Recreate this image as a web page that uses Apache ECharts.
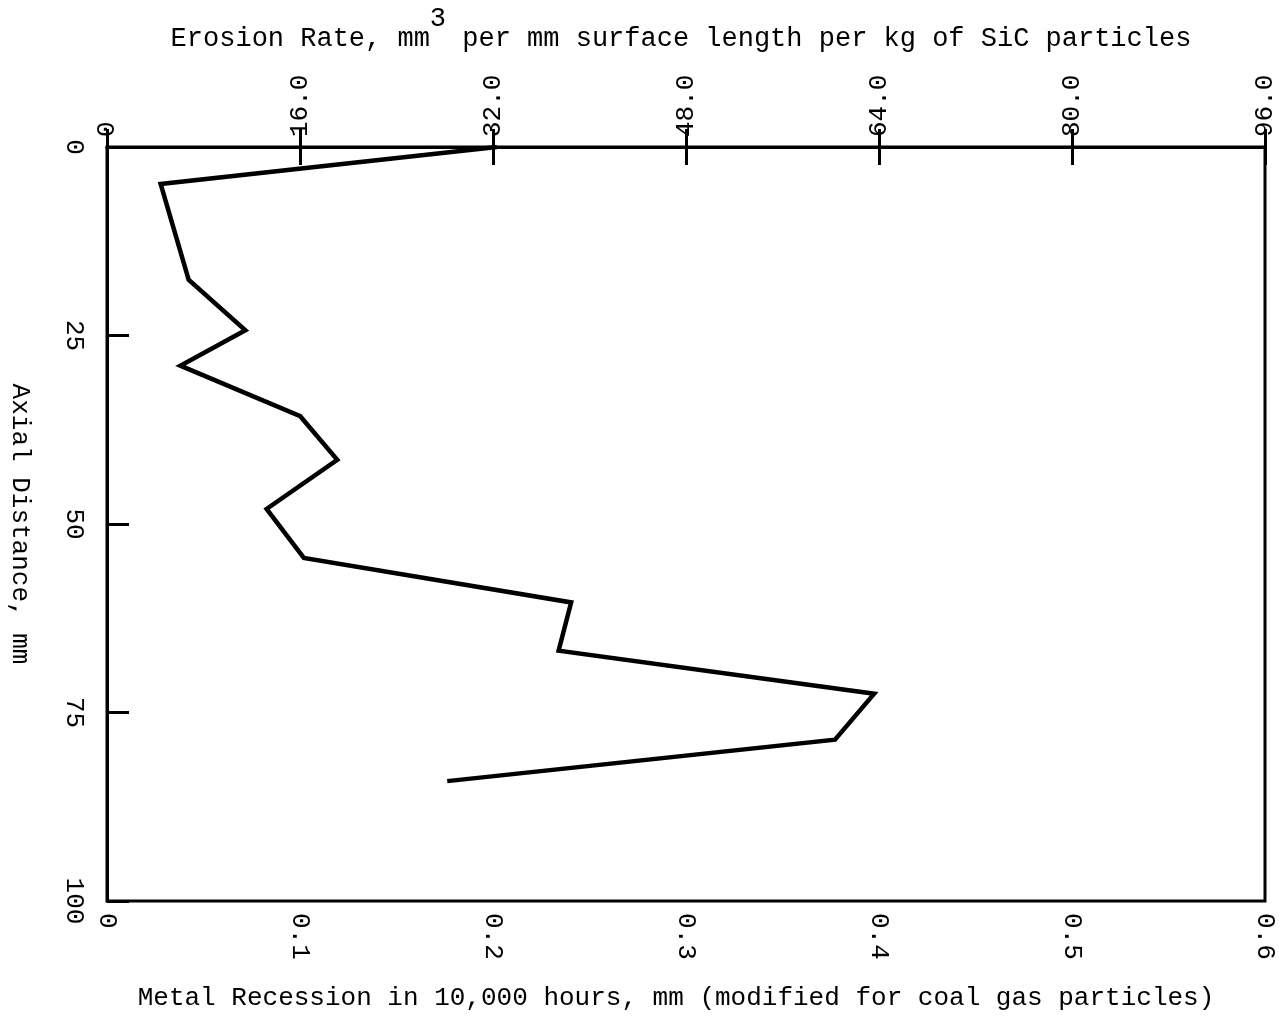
<!DOCTYPE html>
<html>
<head>
<meta charset="utf-8">
<title>Metal Recession vs Axial Distance</title>
<script src="https://cdn.jsdelivr.net/npm/echarts@6/dist/echarts.min.js"></script>
<style>
  html, body { margin: 0; padding: 0; background: #fff; }
  #chart { width: 1279px; height: 1016px; }
</style>
</head>
<body>
<div id="chart"></div>
<script>
// Profile along the surface: metal recession (mm) at each axial position (mm)
const axialDistance = [0, 4.9, 17.6, 24.3, 29.0, 35.7, 41.5, 48.0, 54.5, 60.4, 66.8, 72.5, 78.6, 84.1];
const metalRecession = [0.202, 0.0278, 0.0423, 0.0717, 0.0380, 0.1001, 0.1193, 0.0827, 0.1020, 0.2405, 0.2340, 0.3975, 0.3772, 0.1763];

// Axis scales
const recessionTicks = [0, 0.1, 0.2, 0.3, 0.4, 0.5, 0.6];
const erosionTicks = [0, 16.0, 32.0, 48.0, 64.0, 80.0, 96.0];
const axialTicks = [0, 25, 50, 75, 100];

const FONT = '"Liberation Mono", "DejaVu Sans Mono", monospace';
const INK = '#000';

// Top axis title: the cubic exponent sits on its own line above "mm"
const erosionTitleMain = 'Erosion Rate, mm  per mm surface length per kg of SiC particles';
const erosionTitleSup = ' '.repeat(16) + '3' + ' '.repeat(erosionTitleMain.length - 17);

const points = axialDistance.map((d, i) => [metalRecession[i], d]);

const step = arr => arr[1] - arr[0];

const tickStyle = { show: true, inside: true, length: 18, lineStyle: { color: INK, width: 3 } };
const labelStyle = { fontFamily: FONT, fontSize: 26, color: INK, rotate: -90 };

const chart = echarts.init(document.getElementById('chart'), null, { renderer: 'canvas' });

chart.setOption({
  backgroundColor: '#fff',
  animation: false,
  grid: {
    left: 107, right: 14, top: 147, bottom: 115,
    show: true, borderColor: INK, borderWidth: 3,
    containLabel: false, outerBoundsMode: 'none'
  },
  xAxis: [
    {
      type: 'value', position: 'bottom',
      min: recessionTicks[0], max: recessionTicks[recessionTicks.length - 1], interval: step(recessionTicks),
      name: 'Metal Recession in 10,000 hours, mm (modified for coal gas particles)',
      nameLocation: 'middle', nameGap: 84, nameMoveOverlap: false,
      nameTextStyle: { fontFamily: FONT, fontSize: 26, color: INK, lineHeight: 26, padding: [0, 20, 0, 0] },
      axisLine: { show: true, lineStyle: { color: INK, width: 3 } },
      axisTick: tickStyle,
      splitLine: { show: false },
      axisLabel: Object.assign({}, labelStyle, {
        margin: 12,
        formatter: v => (v === 0 ? '0' : v.toFixed(1))
      })
    },
    {
      type: 'value', position: 'top',
      min: erosionTicks[0], max: erosionTicks[erosionTicks.length - 1], interval: step(erosionTicks),
      name: erosionTitleSup + '\n' + erosionTitleMain,
      nameLocation: 'middle', nameGap: 98, nameMoveOverlap: false,
      nameTextStyle: { fontFamily: FONT, fontSize: 27, color: INK, lineHeight: 20, padding: [0, 10, 0, 0] },
      axisLine: { show: true, lineStyle: { color: INK, width: 3 } },
      axisTick: tickStyle,
      splitLine: { show: false },
      axisLabel: Object.assign({}, labelStyle, {
        margin: 10,
        formatter: v => (v === 0 ? '0' : v.toFixed(1))
      })
    }
  ],
  yAxis: {
    type: 'value', position: 'left', inverse: true,
    min: axialTicks[0], max: axialTicks[axialTicks.length - 1], interval: step(axialTicks),
    name: 'Axial Distance, mm',
    nameLocation: 'middle', nameGap: 74, nameRotate: -90, nameMoveOverlap: false,
    nameTextStyle: { fontFamily: FONT, fontSize: 26, color: INK, lineHeight: 26 },
    axisLine: { show: true, lineStyle: { color: INK, width: 3 } },
    axisTick: Object.assign({}, tickStyle, { length: 22 }),
    splitLine: { show: false },
    axisLabel: Object.assign({}, labelStyle, { margin: 20 })
  },
  series: [
    {
      type: 'line',
      xAxisIndex: 0,
      yAxisIndex: 0,
      data: points,
      showSymbol: false,
      symbol: 'none',
      lineStyle: { color: INK, width: 4.5, join: 'miter' },
      silent: true
    }
  ]
});
</script>
</body>
</html>
